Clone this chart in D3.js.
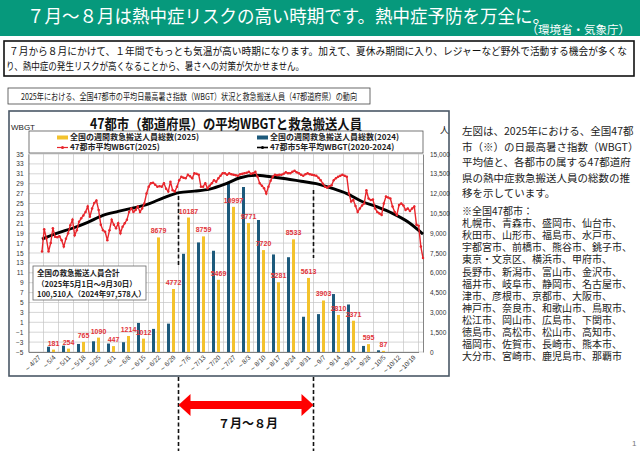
<!DOCTYPE html>
<html>
<head>
<meta charset="utf-8">
<script src="https://cdn.jsdelivr.net/npm/d3@7"></script>
<style>
body { margin: 0; background: #fff; }
svg { display: block; font-family: "Noto Sans CJK JP", "Noto Sans", sans-serif; }
</style>
</head>
<body>
<svg id="chart" width="640" height="451"></svg>
<script>
// weekly categories (week ending)
var weeks = ['～4/27','～5/4','～5/11','～5/18','～5/25','～6/1','～6/8','～6/15','～6/22','～6/29',
	'～7/6','～7/13','～7/20','～7/27','～8/3','～8/10','～8/17','～8/24','～8/31','～9/7',
	'～9/14','～9/21','～9/28','～10/5','～10/12','～10/19'];
// weekly heatstroke ambulance transports, whole country
var cases2025 = [null,181,254,765,1090,447,1214,1012,8679,4772,10187,8759,5469,10997,9771,7720,5281,8533,5613,3903,2810,2371,595,87,null,null];
var cases2024 = [null,400,480,610,810,640,740,2200,1750,2150,7440,8300,7670,12900,12500,10000,7390,7180,2670,2870,4390,3600,460,130,null,null];

// daily mean WBGT of 47 cities, 2025 (from 4/28)
var wbgtStart = '2025-04-28';
var wbgt2025 = [15.3,19.8,18.0,15.3,17.0,20.0,18.3,18.2,18.4,17.6,16.3,17.9,19.0,20.6,21.7,18.6,19.6,21.3,22.0,22.6,
	23.3,24.4,22.3,24.0,25.1,25.6,23.7,20.7,19.6,19.3,17.6,19.6,21.7,20.7,20.0,21.0,19.0,20.3,21.0,21.7,
	23.3,24.0,23.3,23.7,24.4,23.3,24.0,25.0,27.0,28.4,29.1,29.2,28.8,28.4,28.5,28.4,29.1,28.0,27.4,29.4,
	27.7,27.4,28.4,29.7,30.4,30.2,30.1,30.8,30.5,30.1,31.1,31.0,30.8,28.4,28.4,29.1,28.1,28.6,29.1,29.7,
	29.4,30.1,30.6,31.1,31.1,30.8,31.1,30.9,30.8,30.7,30.6,30.9,31.0,31.1,31.2,31.4,31.0,31.1,31.4,30.4,
	29.1,28.6,28.1,27.0,28.4,29.6,30.4,30.8,30.7,30.8,30.8,31.0,31.3,31.1,31.1,31.4,31.6,31.3,31.1,30.8,
	30.6,30.9,31.1,30.9,30.8,30.7,30.6,30.2,29.7,29.0,28.4,28.2,28.5,28.7,29.7,30.1,30.4,30.6,30.8,30.6,
	30.4,27.0,25.4,25.7,24.5,23.3,24.0,24.6,25.0,27.7,26.0,25.7,25.8,24.0,23.3,23.0,22.7,25.0,26.4,26.2,
	26.0,24.4,23.3,22.7,24.7,25.0,24.6,23.7,24.0,23.5,24.0,24.4,20.7,20.5,16.3,14.0];
// 5-year mean WBGT (2020-2024), one value every 7 days from 4/28
var wbgtAvg = [17.8,19.0,20.0,21.2,22.6,23.4,24.1,24.9,26.2,27.2,27.5,27.9,28.9,30.2,30.7,30.4,30.0,29.5,29.0,28.1,27.0,25.4,24.3,23.0,21.3,18.8];

var wbgtTicks = d3.range(-5, 36, 2);
var caseTicks = d3.range(0, 15001, 1500);

var headTitle = '７月～８月は熱中症リスクの高い時期です。熱中症予防を万全に。';
var headSource = '（環境省・気象庁）';
var introLines = ['７月から８月にかけて、１年間でもっとも気温が高い時期になります。加えて、夏休み期間に入り、レジャーなど野外で活動する機会が多くな',
	'り、熱中症の発生リスクが高くなることから、暑さへの対策が欠かせません。'];
var subTitle = '2025年における、全国47都市の平均日最高暑さ指数（WBGT）状況と救急搬送人員（47都道府県）の動向';
var chartTitle = '47都市（都道府県）の平均WBGTと救急搬送人員';
var legendLabels = ['全国の週間救急搬送人員総数(2025)','全国の週間救急搬送人員総数(2024)','47都市平均WBGT(2025)','47都市5年平均WBGT(2020-2024)'];
var totalLines = ['全国の救急搬送人員合計','（2025年5月1日～9月30日）','100,510人（2024年97,578人）'];
var noteLines = ['左図は、2025年における、全国47都','市（※）の日最高暑さ指数（WBGT）','平均値と、各都市の属する47都道府','県の熱中症救急搬送人員の総数の推','移を示しています。'];
var cityLines = ['※全国47都市：','札幌市、青森市、盛岡市、仙台市、','秋田市、山形市、福島市、水戸市、','宇都宮市、前橋市、熊谷市、銚子市、','東京・文京区、横浜市、甲府市、',
	'長野市、新潟市、富山市、金沢市、','福井市、岐阜市、静岡市、名古屋市、','津市、彦根市、京都市、大阪市、','神戸市、奈良市、和歌山市、鳥取市、','松江市、岡山市、広島市、下関市、',
	'徳島市、高松市、松山市、高知市、','福岡市、佐賀市、長崎市、熊本市、','大分市、宮崎市、鹿児島市、那覇市'];

var YELLOW = '#f3c22c', BLUE = '#1d5a7c', RED = '#e8262c';
var svg = d3.select('#chart');

// ---- header ----
svg.append('rect').attr('x', 0).attr('y', 0).attr('width', 640).attr('height', 36).attr('fill', '#06997c');
svg.append('text').attr('x', 27).attr('y', 22.5).attr('font-size', 18.5).attr('fill', '#fff')
	.attr('textLength', 523).attr('lengthAdjust', 'spacingAndGlyphs').text(headTitle);
svg.append('text').attr('x', 630).attr('y', 34).attr('font-size', 11.5).attr('fill', '#fff')
	.attr('text-anchor', 'end').text(headSource);

svg.append('rect').attr('x', 4).attr('y', 41).attr('width', 630).attr('height', 35)
	.attr('fill', '#fff').attr('stroke', '#111').attr('stroke-width', 1.6);
svg.append('text').attr('x', 9).attr('y', 55).attr('font-size', 10.5).attr('fill', '#111')
	.attr('textLength', 618).attr('lengthAdjust', 'spacingAndGlyphs').text(introLines[0]);
svg.append('text').attr('x', 6).attr('y', 70).attr('font-size', 10.5).attr('fill', '#111')
	.attr('textLength', 298).attr('lengthAdjust', 'spacingAndGlyphs').text(introLines[1]);

svg.append('rect').attr('x', 8).attr('y', 88).attr('width', 362).attr('height', 16)
	.attr('fill', '#fff').attr('stroke', '#444').attr('stroke-width', 0.8);
svg.append('text').attr('x', 189).attr('y', 99.5).attr('font-size', 9.5).attr('fill', '#222')
	.attr('text-anchor', 'middle').attr('textLength', 336).attr('lengthAdjust', 'spacingAndGlyphs').text(subTitle);

// ---- chart frame ----
svg.append('rect').attr('x', 9).attr('y', 111).attr('width', 440).attr('height', 265)
	.attr('fill', '#fff').attr('stroke', '#4a5866').attr('stroke-width', 1.6);

var plotL = 28.5, plotR = 423, plotT = 154, plotB = 352;
var x = d3.scaleBand().domain(weeks).range([plotL, 418.5]);
var yL = d3.scaleLinear().domain([-5, 35]).range([plotB, plotT]);
var yR = d3.scaleLinear().domain([0, 15000]).range([plotB, plotT]);
var parse = d3.timeParse('%Y-%m-%d');
var d0 = parse(wbgtStart);
var days = wbgt2025.map(function(v, i) { return d3.timeDay.offset(d0, i); });
var xDay = d3.scaleTime().domain([d0, days[days.length - 1]]).range([42, 423]);

var grid = svg.append('g').attr('stroke', '#c4c4c4').attr('stroke-width', 0.7);
wbgtTicks.forEach(function(t) {
	grid.append('line').attr('x1', plotL).attr('x2', plotR).attr('y1', yL(t)).attr('y2', yL(t));
});
weeks.forEach(function(w) {
	grid.append('line').attr('x1', x(w)).attr('x2', x(w)).attr('y1', plotT).attr('y2', plotB);
});
grid.append('line').attr('x1', 418.5).attr('x2', 418.5).attr('y1', plotT).attr('y2', plotB);

// bars
var bw = 3;
svg.append('g').selectAll('rect').data(weeks.filter(function(w, i) { return cases2024[i] != null; }))
	.enter().append('rect')
	.attr('x', function(w) { return x(w) + x.bandwidth() / 2 - 2.5 - bw / 2; })
	.attr('y', function(w) { return yR(cases2024[weeks.indexOf(w)]); })
	.attr('width', bw)
	.attr('height', function(w) { return plotB - yR(cases2024[weeks.indexOf(w)]); })
	.attr('fill', BLUE);
svg.append('g').selectAll('rect').data(weeks.filter(function(w, i) { return cases2025[i] != null; }))
	.enter().append('rect')
	.attr('x', function(w) { return x(w) + x.bandwidth() / 2 + 2.5 - bw / 2; })
	.attr('y', function(w) { return yR(cases2025[weeks.indexOf(w)]); })
	.attr('width', bw)
	.attr('height', function(w) { return plotB - yR(cases2025[weeks.indexOf(w)]); })
	.attr('fill', YELLOW);

// axes
var axL = svg.append('g').attr('transform', 'translate(' + plotL + ',0)')
	.call(d3.axisLeft(yL).tickValues(wbgtTicks).tickSize(0).tickPadding(5));
var axR = svg.append('g').attr('transform', 'translate(' + plotR + ',0)')
	.call(d3.axisRight(yR).tickValues(caseTicks).tickSize(0).tickPadding(7).tickFormat(d3.format(',')));
var axB = svg.append('g').attr('transform', 'translate(0,' + plotB + ')')
	.call(d3.axisBottom(x).tickSize(0));
[axL, axR, axB].forEach(function(a) {
	a.select('.domain').attr('stroke', '#666').attr('stroke-width', 0.8);
	a.selectAll('text').attr('font-size', 6.5).attr('fill', '#333').attr('font-family', 'Liberation Sans, Arial, sans-serif');
});
axB.selectAll('text').attr('text-anchor', 'end').attr('dy', 0)
	.attr('transform', 'translate(5,6) rotate(-45)').attr('y', 0).attr('x', 0);

// dashed markers for July-August
var dashX = [x('～7/6'), x('～9/7')];
svg.append('g').selectAll('line').data(dashX).enter().append('line')
	.attr('x1', function(d) { return d; }).attr('x2', function(d) { return d; })
	.attr('y1', function(d, i) { return i ? 190 : 196; }).attr('y2', function(d, i) { return i ? 258 : 266; })
	.attr('stroke', '#111').attr('stroke-width', 1.6).attr('stroke-dasharray', '4,2.5');

// lines
var redLine = d3.line().x(function(v, i) { return xDay(days[i]); }).y(function(v) { return yL(v); });
var avgLine = d3.line().curve(d3.curveMonotoneX)
	.x(function(v, i) { return xDay(d3.timeDay.offset(d0, i * 7)); }).y(function(v) { return yL(v); });
svg.append('path').attr('d', avgLine(wbgtAvg)).attr('fill', 'none').attr('stroke', '#000').attr('stroke-width', 2.9);
svg.append('path').attr('d', redLine(wbgt2025)).attr('fill', 'none').attr('stroke', RED).attr('stroke-width', 1.4);
svg.append('g').selectAll('circle').data(wbgt2025).enter().append('circle')
	.attr('cx', function(v, i) { return xDay(days[i]); }).attr('cy', function(v) { return yL(v); })
	.attr('r', 1.25).attr('fill', RED);

// value labels 2025
svg.append('g').selectAll('text').data(weeks.filter(function(w, i) { return cases2025[i] != null; }))
	.enter().append('text')
	.attr('x', function(w) { return x(w) + x.bandwidth() / 2 + 2.5; })
	.attr('y', function(w) { return yR(cases2025[weeks.indexOf(w)]) - 4; })
	.attr('text-anchor', 'middle').attr('font-size', 7).attr('font-weight', 'bold')
	.attr('font-family', 'Liberation Sans, Arial, sans-serif').attr('fill', '#e2353a')
	.text(function(w) { return cases2025[weeks.indexOf(w)]; });

// titles
svg.append('text').attr('x', 226).attr('y', 129).attr('text-anchor', 'middle').attr('font-size', 14)
	.attr('font-weight', 'bold').attr('fill', '#111').attr('textLength', 272).attr('lengthAdjust', 'spacingAndGlyphs').text(chartTitle);
svg.append('text').attr('x', 11).attr('y', 130).attr('font-size', 8).attr('fill', '#222')
	.attr('font-family', 'Liberation Sans, Arial, sans-serif').text('WBGT');
svg.append('text').attr('x', 440).attr('y', 133).attr('font-size', 9).attr('fill', '#222').text('人');

// legend
var lg = svg.append('g');
lg.append('rect').attr('x', 29).attr('y', 131).attr('width', 394).attr('height', 22)
	.attr('fill', '#fff').attr('stroke', '#555').attr('stroke-width', 0.8);
var legendPos = [[57, 140], [257, 140], [57, 150], [257, 150]];
legendLabels.forEach(function(t, i) {
	var p = legendPos[i];
	if (i < 2) {
		lg.append('rect').attr('x', p[0]).attr('y', p[1] - 4.5).attr('width', 11).attr('height', 4).attr('fill', i ? BLUE : YELLOW);
	} else {
		var c = i === 2 ? RED : '#000';
		lg.append('line').attr('x1', p[0]).attr('x2', p[0] + 11).attr('y1', p[1] - 2.5).attr('y2', p[1] - 2.5)
			.attr('stroke', c).attr('stroke-width', i === 2 ? 1.2 : 1.6);
		lg.append('circle').attr('cx', p[0] + 5.5).attr('cy', p[1] - 2.5).attr('r', 1.5).attr('fill', c);
	}
	lg.append('text').attr('x', p[0] + 13).attr('y', p[1]).attr('font-size', 8).attr('font-weight', 'bold')
		.attr('fill', '#222').text(t);
});

// total box
svg.append('rect').attr('x', 33).attr('y', 266).attr('width', 113).attr('height', 34)
	.attr('fill', '#fff').attr('stroke', '#666').attr('stroke-width', 0.8);
totalLines.forEach(function(t, i) {
	svg.append('text').attr('x', 37).attr('y', 276 + i * 10.5).attr('font-size', 7.5)
		.attr('font-weight', 'bold').attr('fill', '#222').text(t);
});

// below chart: dashed lines and arrow
svg.append('g').selectAll('line').data(dashX).enter().append('line')
	.attr('x1', function(d) { return d; }).attr('x2', function(d) { return d; })
	.attr('y1', 377).attr('y2', 451)
	.attr('stroke', '#111').attr('stroke-width', 1.6).attr('stroke-dasharray', '4,2.5');
var ax0 = dashX[0], ax1 = dashX[1], ay = 405;
svg.append('path').attr('fill', '#ff0000')
	.attr('d', 'M' + ax0 + ',' + ay + 'L' + (ax0 + 12) + ',' + (ay - 11) + 'L' + (ax0 + 12) + ',' + (ay - 4)
		+ 'L' + (ax1 - 12) + ',' + (ay - 4) + 'L' + (ax1 - 12) + ',' + (ay - 11) + 'L' + ax1 + ',' + ay
		+ 'L' + (ax1 - 12) + ',' + (ay + 11) + 'L' + (ax1 - 12) + ',' + (ay + 4) + 'L' + (ax0 + 12) + ',' + (ay + 4)
		+ 'L' + (ax0 + 12) + ',' + (ay + 11) + 'Z');
svg.append('text').attr('x', (ax0 + ax1) / 2 + 2).attr('y', 428).attr('text-anchor', 'middle')
	.attr('font-size', 12).attr('font-weight', 'bold').attr('fill', '#111').text('７月～８月');

// right side notes
noteLines.forEach(function(t, i) {
	svg.append('text').attr('x', 462).attr('y', 135 + i * 15.5).attr('font-size', 10.5).attr('fill', '#222').text(t);
});
cityLines.forEach(function(t, i) {
	svg.append('text').attr('x', 462).attr('y', 215 + i * 12.1).attr('font-size', 10).attr('fill', '#222').text(t);
});

svg.append('text').attr('x', 632).attr('y', 446).attr('font-size', 8).attr('fill', '#777')
	.attr('font-family', 'Liberation Sans, Arial, sans-serif').text('1');
</script>
</body>
</html>
